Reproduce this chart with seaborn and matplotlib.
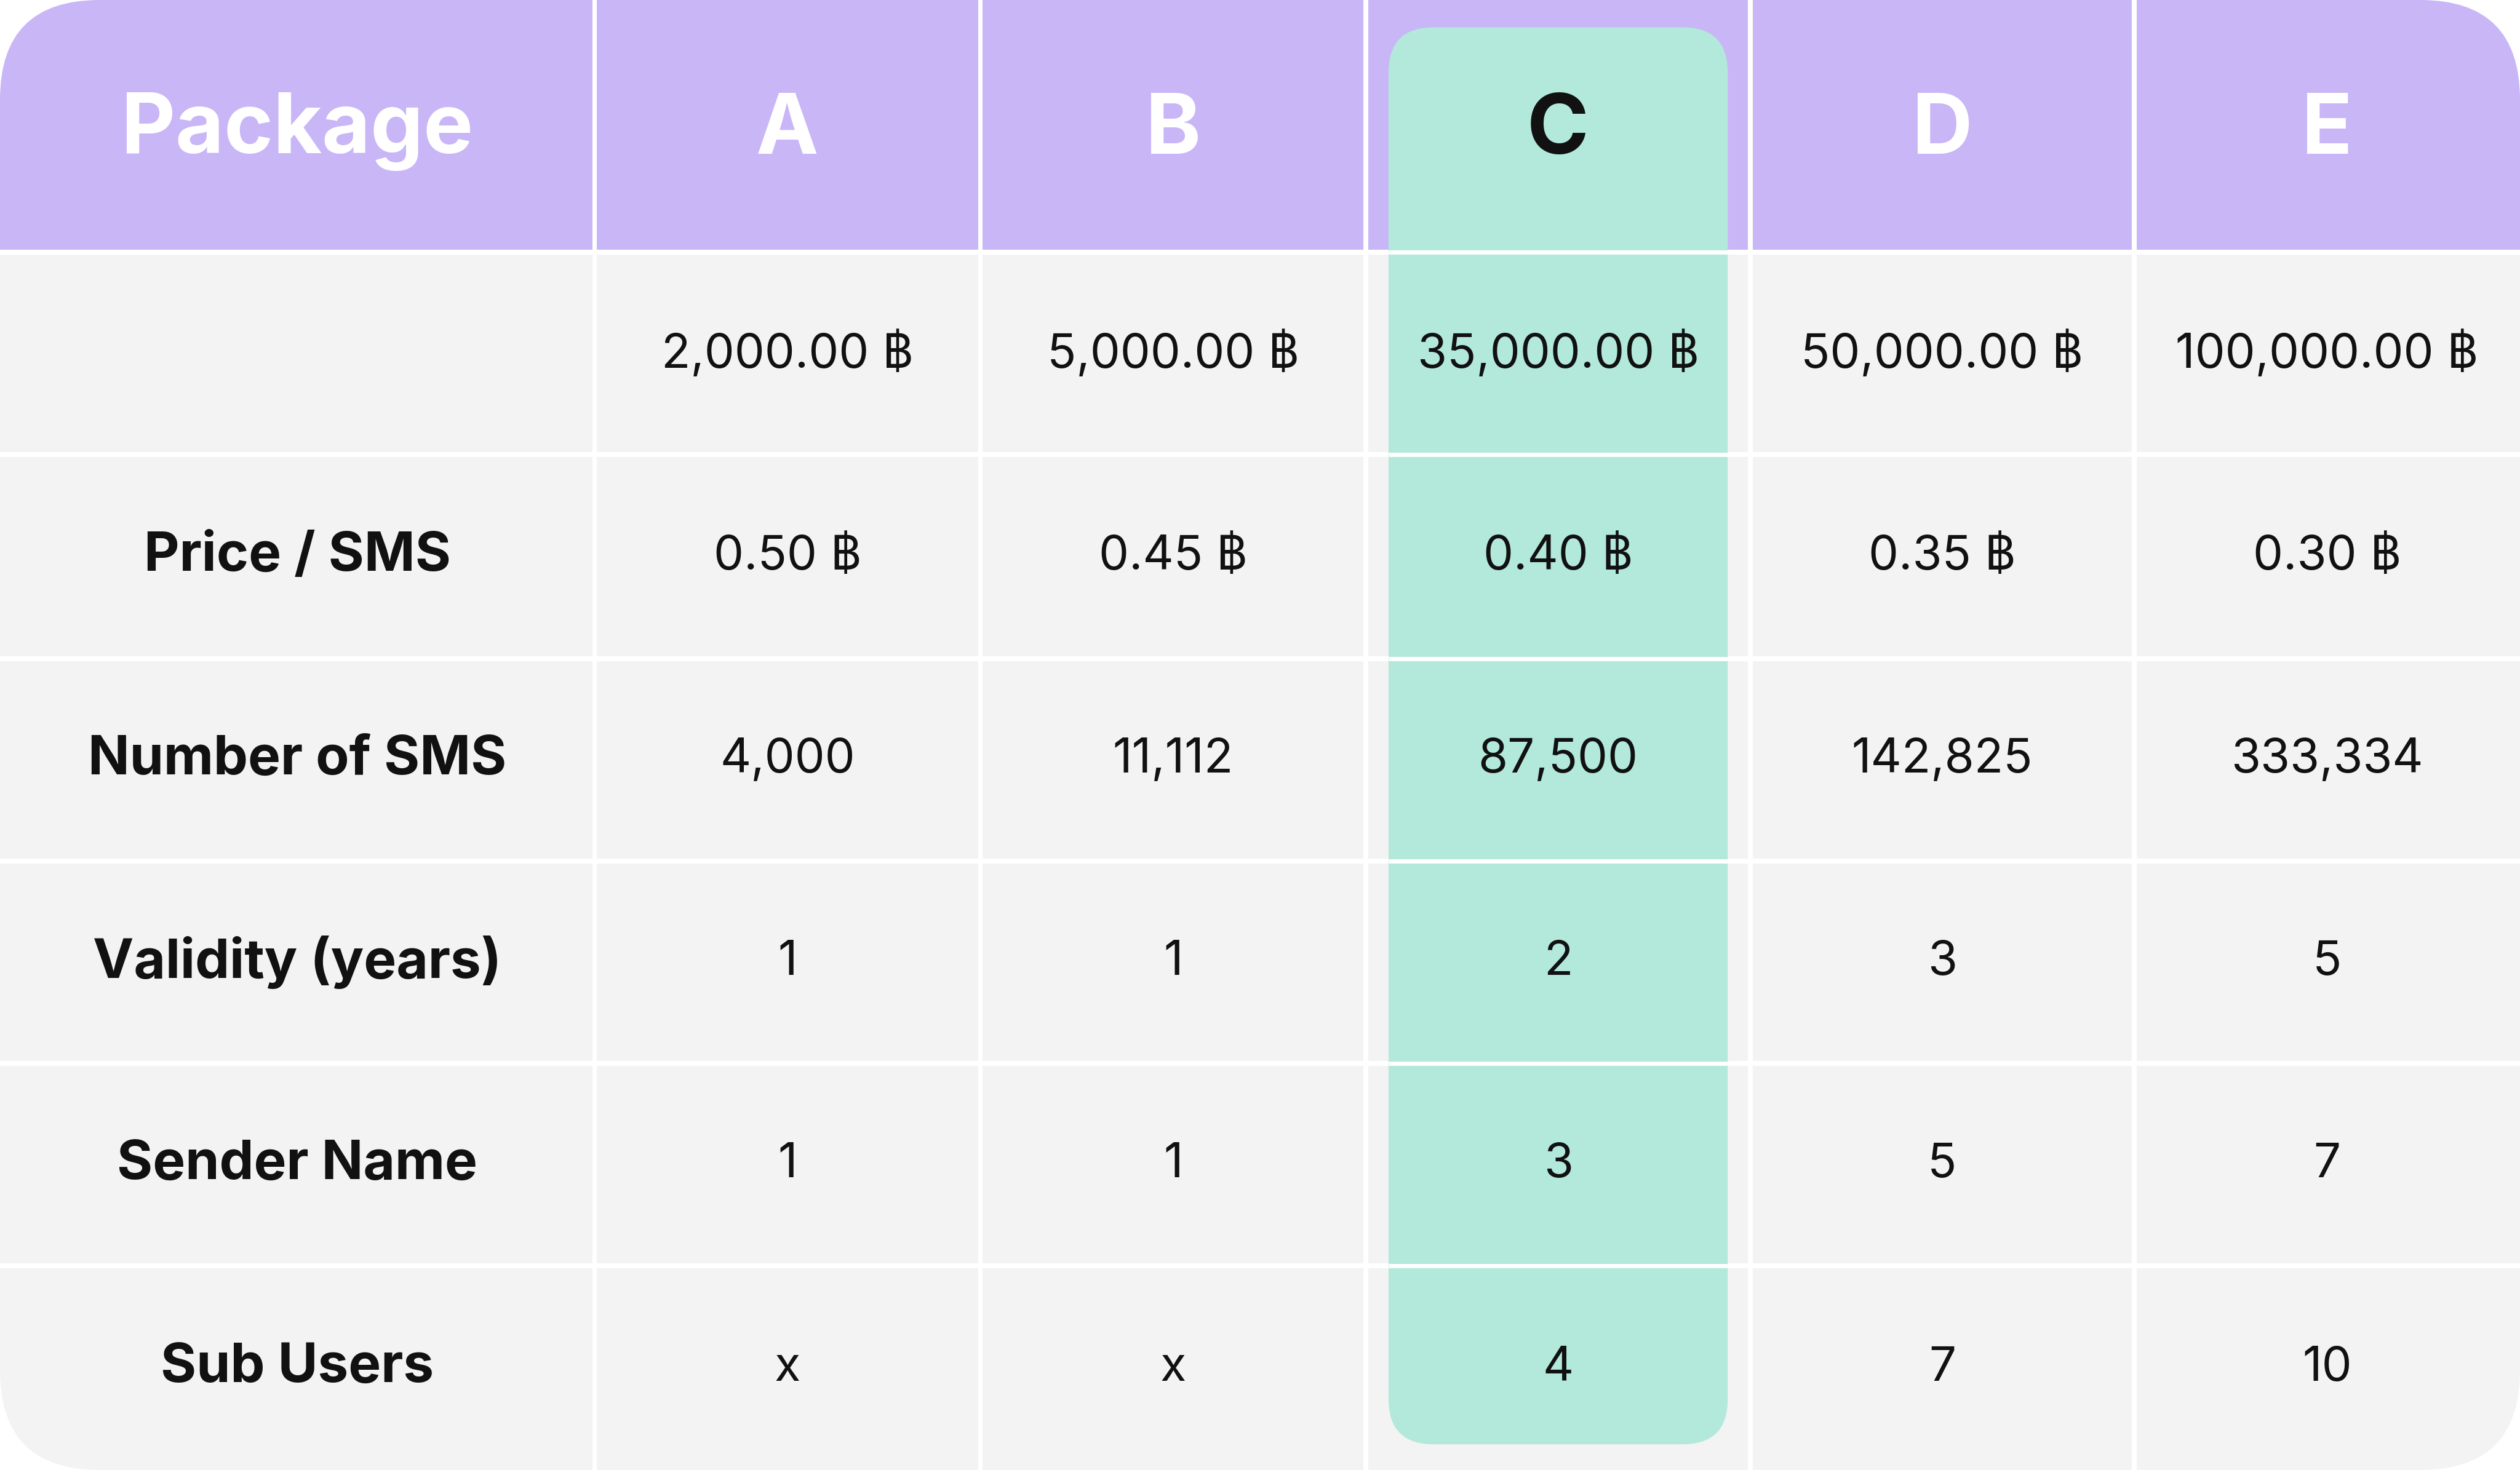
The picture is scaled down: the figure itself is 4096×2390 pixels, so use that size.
import matplotlib
matplotlib.use("Agg")
import matplotlib.pyplot as plt
import seaborn as sns
from matplotlib.patches import Rectangle, FancyBboxPatch

sns.set_theme(style="white")
plt.rcParams["font.family"] = ["Inter", "DejaVu Sans"]

packages = ["A", "B", "C", "D", "E"]
row_labels = ["", "Price / SMS", "Number of SMS", "Validity (years)", "Sender Name", "Sub Users"]
total_price = ["2,000.00 ฿", "5,000.00 ฿", "35,000.00 ฿", "50,000.00 ฿", "100,000.00 ฿"]
price_per_sms = ["0.50 ฿", "0.45 ฿", "0.40 ฿", "0.35 ฿", "0.30 ฿"]
number_of_sms = ["4,000", "11,112", "87,500", "142,825", "333,334"]
validity_years = ["1", "1", "2", "3", "5"]
sender_name = ["1", "1", "3", "5", "7"]
sub_users = ["x", "x", "4", "7", "10"]
highlight = "C"

rows = [total_price, price_per_sms, number_of_sms, validity_years, sender_name, sub_users]

W, H = 1568, 915
col_edges = [0, 370, 610, 850, 1089, 1328, 1568]
row_edges = [0, 157, 283, 410, 536, 662, 788, 915]
gap = 1.5
PURPLE, GRAY, MINT = "#C8B6F7", "#F3F3F3", "#B2E9DA"

fig = plt.figure(figsize=(40.96, 23.9), dpi=100)
ax = fig.add_axes([0, 0, 1, 1])
ax.set_xlim(0, W)
ax.set_ylim(H, 0)
ax.axis("off")

clip = FancyBboxPatch((0, 0), W, H, boxstyle="round,pad=0,rounding_size=62",
                      transform=ax.transData, facecolor="none", edgecolor="none")
ax.add_patch(clip)

for r in range(len(row_edges) - 1):
    for c in range(len(col_edges) - 1):
        x0, x1 = col_edges[c], col_edges[c + 1]
        y0, y1 = row_edges[r], row_edges[r + 1]
        rect = Rectangle((x0 + (gap if c > 0 else 0), y0 + (gap if r > 0 else 0)),
                         x1 - x0 - (gap if c > 0 else 0) - (gap if c < 5 else 0),
                         y1 - y0 - (gap if r > 0 else 0) - (gap if r < 6 else 0),
                         facecolor=PURPLE if r == 0 else GRAY, edgecolor="none")
        ax.add_patch(rect)
        rect.set_clip_path(clip)

hi = packages.index(highlight) + 1
hx0, hx1 = col_edges[hi] + 14, col_edges[hi + 1] - 14
hl = FancyBboxPatch((hx0, 17), hx1 - hx0, 899 - 17,
                    boxstyle="round,pad=0,rounding_size=28", facecolor=MINT, edgecolor="none")
ax.add_patch(hl)
for r in range(1, len(row_edges) - 1):
    ax.plot([hx0, hx1], [row_edges[r], row_edges[r]], color="white", lw=5, solid_capstyle="butt")

ax.text((col_edges[0] + col_edges[1]) / 2, 82, "Package", ha="center", va="center",
        fontsize=98, fontweight="bold", color="white")
for i, p in enumerate(packages):
    ax.text((col_edges[i + 1] + col_edges[i + 2]) / 2, 82, p, ha="center", va="center",
            fontsize=98, fontweight="bold", color="#111111" if p == highlight else "white")

for r, (lab, vals) in enumerate(zip(row_labels, rows)):
    yc = (row_edges[r + 1] + row_edges[r + 2]) / 2
    if lab:
        ax.text((col_edges[0] + col_edges[1]) / 2, yc, lab, ha="center", va="center",
                fontsize=64, fontweight="bold", color="#111111")
    for i, v in enumerate(vals):
        ax.text((col_edges[i + 1] + col_edges[i + 2]) / 2, yc, v, ha="center", va="center",
                fontsize=56, color="#111111")

fig.savefig("out.png", dpi=100, facecolor="white")
